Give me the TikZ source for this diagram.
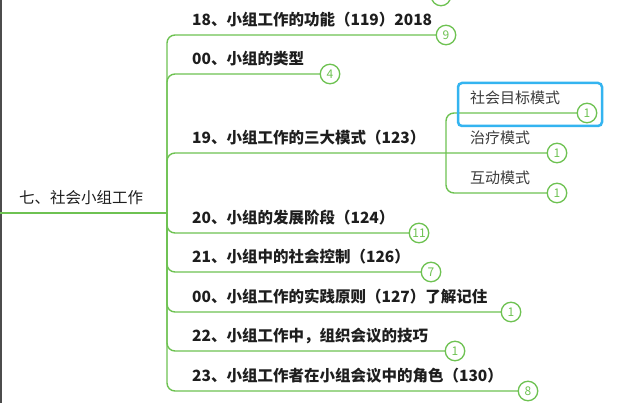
\documentclass[tikz,border=0pt]{standalone}
\usepackage{fontspec}
\setmainfont{Noto Sans CJK SC}
\newfontfamily\cjk{Noto Sans CJK SC}
\definecolor{gline}{RGB}{110,194,82}
\definecolor{selblue}{RGB}{52,180,240}
\definecolor{txt}{RGB}{30,30,30}
\definecolor{subtxt}{RGB}{60,60,60}
\tikzset{
  rootlabel/.style={anchor=west, inner sep=0pt, font=\cjk\fontsize{15.5}{18}\selectfont, text=txt},
  mainlabel/.style={anchor=west, inner sep=0pt, font=\cjk\bfseries\fontsize{15.5}{18}\selectfont, text=txt},
  sublabel/.style={anchor=west, inner sep=0pt, font=\cjk\fontsize{15}{18}\selectfont, text=subtxt},
  badge/.style={circle, draw=gline, line width=1.3pt, fill=white, minimum size=19.5pt, inner sep=0pt, text=gline, font=\cjk\fontsize{12}{12}\selectfont},
  link/.style={draw=gline, line width=1.4pt, rounded corners=8pt},
  selbox/.style={draw=selblue, line width=2.5pt, rounded corners=4pt, minimum width=144pt, minimum height=43pt, inner sep=0pt},
}
\begin{document}
\begin{tikzpicture}[x=1pt,y=-1pt]
\useasboundingbox (0,0) rectangle (622,403);
\fill[white] (0,0) rectangle (622,403);
\draw[gray!60!black, line width=1.5pt] (0.75,0) -- (0.75,403);

% root
\node[rootlabel] (root) at (19,198) {七、社会小组工作};
\coordinate (rootL) at (0,213);
\coordinate (hub) at (167,213);

% main labels
\node[mainlabel] (t18) at (192,20) {18、小组工作的功能（119）2018};
\node[mainlabel] (t00a) at (192,59) {00、小组的类型};
\node[mainlabel] (t19) at (192,138) {19、小组工作的三大模式（123）};
\node[mainlabel] (t20) at (192,218) {20、小组的发展阶段（124）};
\node[mainlabel] (t21) at (192,257) {21、小组中的社会控制（126）};
\node[mainlabel] (t00b) at (192,297) {00、小组工作的实践原则（127）了解记住};
\node[mainlabel] (t22) at (192,336) {22、小组工作中，组织会议的技巧};
\node[mainlabel] (t23) at (192,376) {23、小组工作者在小组会议中的角色（130）};

% sub labels
\node[sublabel] (s1) at (470,98) {社会目标模式};
\node[sublabel] (s2) at (470,138) {治疗模式};
\node[sublabel] (s3) at (470,178) {互动模式};

% badge positions
\coordinate (p18) at (446,35);
\coordinate (p00a) at (330,74);
\coordinate (ps1) at (587,113);
\coordinate (ps2) at (557,153);
\coordinate (ps3) at (557,193);
\coordinate (p20) at (419,233);
\coordinate (p21) at (431,272);
\coordinate (p00b) at (511,312);
\coordinate (p22) at (455,351);
\coordinate (p23) at (528,391);
\coordinate (sub) at (446,153);

% connectors
\draw[link, line width=2pt] (rootL) -- (hub);
\draw[link] (hub) |- (p18);
\draw[link] (hub) |- (p00a);
\draw[link] (hub) |- (ps2);
\draw[link] (sub) |- (ps1);
\draw[link] (sub) |- (ps3);
\draw[link] (hub) |- (p20);
\draw[link] (hub) |- (p21);
\draw[link] (hub) |- (p00b);
\draw[link] (hub) |- (p22);
\draw[link] (hub) |- (p23);

% badges
\node[badge] (ctop) at (441,-4) {10};
\node[badge] (c18) at (p18) {9};
\node[badge] (c00a) at (p00a) {4};
\node[badge] (cs1) at (ps1) {1};
\node[badge] (cs2) at (ps2) {1};
\node[badge] (cs3) at (ps3) {1};
\node[badge] (c20) at (p20) {11};
\node[badge] (c21) at (p21) {7};
\node[badge] (c00b) at (p00b) {1};
\node[badge] (c22) at (p22) {1};
\node[badge] (c23) at (p23) {8};

% selection box
\node[selbox] (sel) at (530,104.5) {};
\end{tikzpicture}
\end{document}
